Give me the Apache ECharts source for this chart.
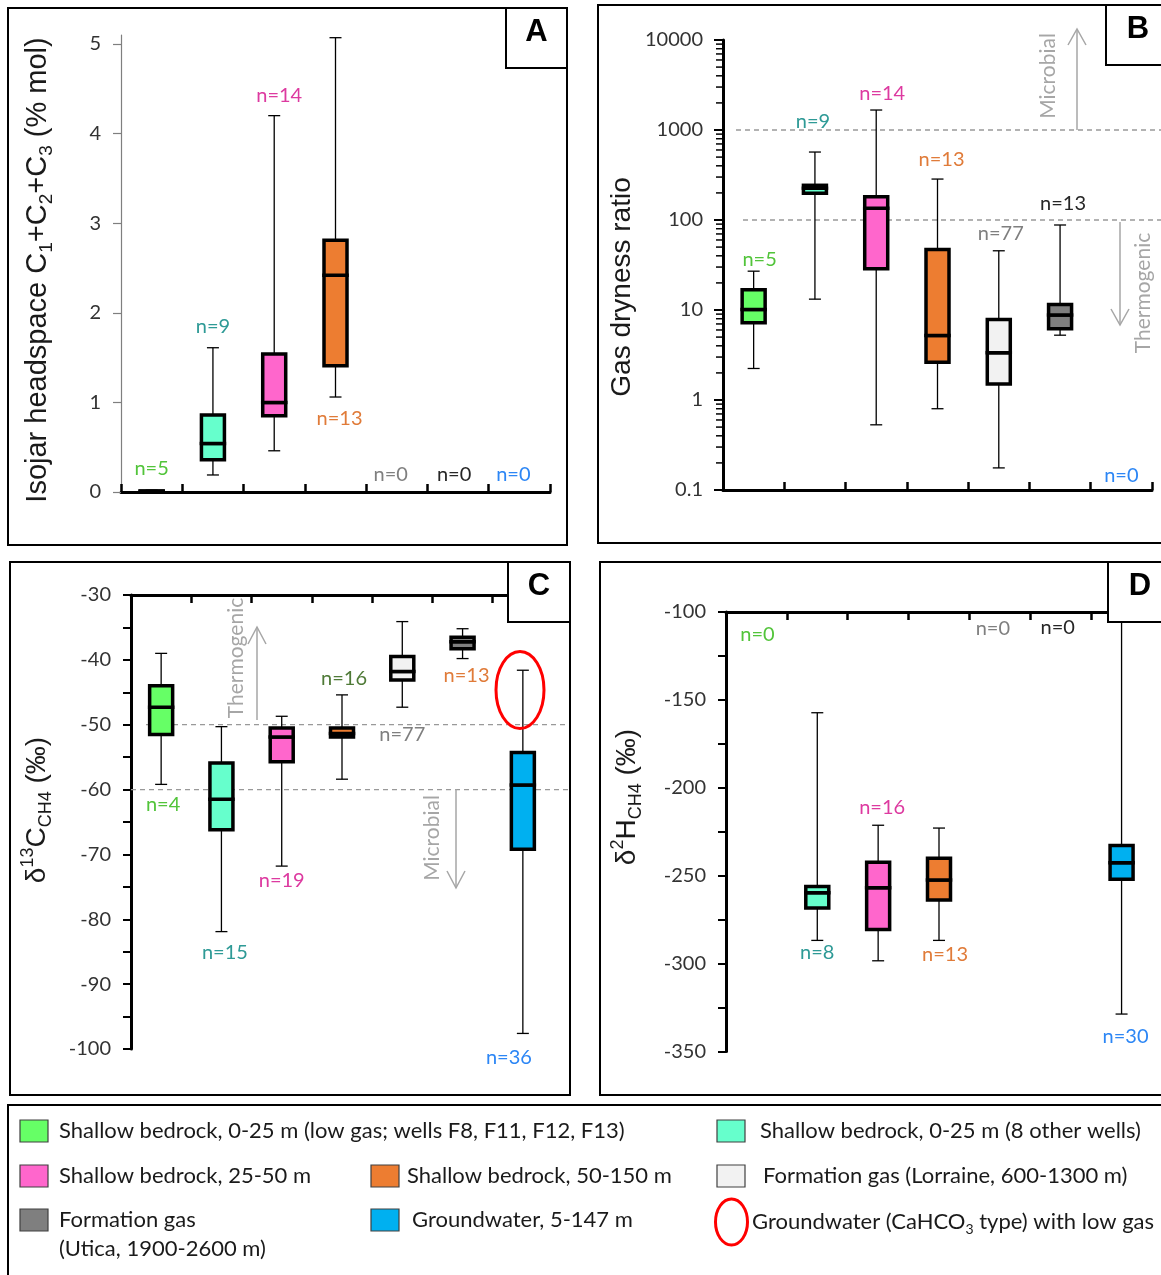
<!DOCTYPE html>
<html><head><meta charset="utf-8">
<script src="https://cdn.jsdelivr.net/npm/echarts@6/dist/echarts.min.js"></script>
<style>html,body{margin:0;padding:0;background:#fff}#chart{width:1161px;height:1275px}</style>
</head><body><div id="chart"></div>
<script>
// ---------------- DATA ----------------
const groups = [
  'Shallow bedrock, 0-25 m (low gas; wells F8, F11, F12, F13)',
  'Shallow bedrock, 0-25 m (8 other wells)',
  'Shallow bedrock, 25-50 m',
  'Shallow bedrock, 50-150 m',
  'Formation gas (Lorraine, 600-1300 m)',
  'Formation gas (Utica, 1900-2600 m)',
  'Groundwater, 5-147 m'
];

// Panel A: Isojar headspace C1+C2+C3 (% mol)
const headspaceMin    = [0.002, 0.19, 0.46, 1.06, null, null, null];
const headspaceQ1     = [0.004, 0.36, 0.85, 1.41, null, null, null];
const headspaceMedian = [0.008, 0.54, 1.00, 2.42, null, null, null];
const headspaceQ3     = [0.012, 0.86, 1.54, 2.81, null, null, null];
const headspaceMax    = [0.02, 1.61, 4.20, 5.07, null, null, null];
const headspaceN      = [5, 9, 14, 13, 0, 0, 0];

// Panel B: Gas dryness ratio
const drynessMin    = [2.24, 13.2, 0.53, 0.80, 0.176, 5.25, null];
const drynessQ1     = [7.2, 198, 28.8, 2.63, 1.51, 6.2, null];
const drynessMedian = [10.1, 226, 135, 5.2, 3.35, 8.8, null];
const drynessQ3     = [16.8, 243, 181, 47, 7.85, 11.5, null];
const drynessMax    = [27, 569, 1667, 285, 45.5, 88, null];
const drynessN      = [5, 9, 14, 13, 77, 13, 0];
const drynessThresholds = [1000, 100];
const drynessTicks = [0.1, 1, 10, 100, 1000, 10000];
const logMinorMultipliers = [2, 3, 4, 5, 6, 7, 8, 9];

// Panel C: d13C-CH4 (permil)
const d13cMin    = [-59.2, -81.9, -71.8, -58.4, -47.3, -39.8, -97.6];
const d13cQ1     = [-51.5, -66.2, -55.7, -51.9, -43.1, -38.3, -69.2];
const d13cMedian = [-47.3, -61.5, -51.9, -51.35, -41.8, -37.2, -59.3];
const d13cQ3     = [-44.0, -55.9, -50.5, -50.5, -39.5, -36.5, -54.3];
const d13cMax    = [-39.0, -50.3, -48.7, -45.4, -34.1, -35.2, -41.6];
const d13cN      = [4, 15, 19, 16, 77, 13, 36];
const d13cThresholds = [-50, -60];

// Panel D: d2H-CH4 (permil)
const d2hMin    = [null, -286.8, -298.4, -286.8, null, null, -328.7];
const d2hQ1     = [null, -268.4, -280.6, -263.8, null, null, -252.0];
const d2hMedian = [null, -259.7, -256.9, -252.4, null, null, -242.7];
const d2hQ3     = [null, -256.1, -242.3, -240.1, null, null, -232.8];
const d2hMax    = [null, -157.3, -221.3, -222.9, null, null, -100];
const d2hN      = [0, 8, 16, 13, 0, 0, 30];

// ---------------- STYLE / LAYOUT ----------------
const boxFill = ['#66ff66', '#66ffcc', '#ff66cc', '#ed7d31', '#f2f2f2', '#7f7f7f', '#00b0f0'];
const nColors = ['#52c43a', '#2e9a96', '#dd3aa0', '#e07b39', '#7f7f7f', '#262626', '#2c86f5'];
const nColorsC = ['#52c43a', '#2e9a96', '#dd3aa0', '#4f7a37', '#7f7f7f', '#e07b39', '#2c86f5'];
const FONT = 'Lato, "Open Sans", sans-serif';
const TFONT = '"Liberation Sans", Arial, sans-serif';

const grids = [
  {left: 121, top: 35, width: 429, height: 457},
  {left: 723, top: 40, width: 429, height: 450},
  {left: 131, top: 595, width: 422, height: 454},
  {left: 726, top: 612, width: 426, height: 439.5}
];

const layouts = [
  {ref: 0, top: false, off: [-22, -21, -20, 22, -17.5, -17, -17.5], dx: [0, 0, 5, 4, -6, -4, -6], colors: nColors},
  {ref: 1, top: false, off: [-12, -30, -16, -20, -17, -21, -14], dx: [6, -2, 6, 4, 2, 3, 0], colors: nColors},
  {ref: -50, top: true, off: [20, 21, 14, -16, 27, 17, 24.5], dx: [2, 3.5, 0, 2, 0, 4, -14], colors: nColorsC},
  {ref: -200, top: true, off: [22.6, 12, -17.5, 14, 17, 16, 22], dx: [1, 0, 4, 6, -7, -3, 4], colors: nColors}
];

function boxSeries(gi, mins, q1s, meds, q3s, maxs, ns) {
  const L = layouts[gi];
  const data = groups.map((g, i) => [i, mins[i], q1s[i], meds[i], q3s[i], maxs[i], ns[i]]);
  return {
    type: 'custom', xAxisIndex: gi, yAxisIndex: gi, clip: false, z: 5,
    encode: {x: 0, y: [1, 2, 3, 4, 5]},
    data: data,
    renderItem: function (params, api) {
      const i = api.value(0);
      const cs = params.coordSys;
      const cx = api.coord([i, L.ref])[0];
      const n = api.value(6);
      const lo = api.value(1), q1 = api.value(2), md = api.value(3), q3 = api.value(4), hi = api.value(5);
      const ch = [];
      let ly;
      if (n > 0 && !isNaN(lo)) {
        const yLo = api.coord([i, lo])[1], yQ1 = api.coord([i, q1])[1], yMd = api.coord([i, md])[1],
              yQ3 = api.coord([i, q3])[1], yHi = api.coord([i, hi])[1];
        const bw = 23, cw = 12;
        ch.push({type: 'line', shape: {x1: cx, y1: yHi, x2: cx, y2: yLo}, style: {stroke: '#000', lineWidth: 1.3}});
        ch.push({type: 'line', shape: {x1: cx - cw / 2, y1: yHi, x2: cx + cw / 2, y2: yHi}, style: {stroke: '#000', lineWidth: 1.3}});
        ch.push({type: 'line', shape: {x1: cx - cw / 2, y1: yLo, x2: cx + cw / 2, y2: yLo}, style: {stroke: '#000', lineWidth: 1.3}});
        ch.push({type: 'rect', shape: {x: cx - bw / 2, y: yMd, width: bw, height: yQ1 - yMd}, style: {fill: boxFill[i], stroke: '#000', lineWidth: 3.5}});
        ch.push({type: 'rect', shape: {x: cx - bw / 2, y: yQ3, width: bw, height: yMd - yQ3}, style: {fill: boxFill[i], stroke: '#000', lineWidth: 3.5}});
        ly = (L.off[i] < 0 ? yHi : yLo) + L.off[i];
      } else {
        ly = (L.top ? cs.y : cs.y + cs.height) + L.off[i];
      }
      ch.push({type: 'text', style: {text: 'n=' + n, x: cx + L.dx[i], y: ly, textAlign: 'center', textVerticalAlign: 'middle', align: 'center', verticalAlign: 'middle', font: '20px ' + FONT, fill: L.colors[i]}});
      return {type: 'group', children: ch};
    }
  };
}

function thresholdSeries(gi, values, startOff, endExt) {
  return {
    type: 'custom', xAxisIndex: gi, yAxisIndex: gi, clip: false, z: 2,
    encode: {x: 0, y: 1},
    data: values.map(v => [0, v]),
    renderItem: function (params, api) {
      const cs = params.coordSys;
      const y = api.coord([0, api.value(1)])[1];
      return {type: 'line', shape: {x1: cs.x + startOff[params.dataIndex], y1: y, x2: cs.x + cs.width + endExt, y2: y},
              style: {stroke: '#999', lineWidth: 1.3, lineDash: [5, 4]}};
    }
  };
}

const minorValues = [];
drynessTicks.slice(0, -1).forEach(d => logMinorMultipliers.forEach(m => minorValues.push(+(d * m).toPrecision(3))));

const minorTickSeries = {
  type: 'custom', xAxisIndex: 1, yAxisIndex: 1, clip: false, z: 10,
  encode: {x: 0, y: 1},
  data: minorValues.map(v => [0, v]),
  renderItem: function (params, api) {
    const cs = params.coordSys;
    const y = api.coord([0, api.value(1)])[1];
    return {type: 'line', shape: {x1: cs.x - 7, y1: y, x2: cs.x, y2: y}, style: {stroke: '#000', lineWidth: 1.5}};
  }
};

function xAxis(gi) {
  return {
    gridIndex: gi, type: 'category', data: groups, boundaryGap: true,
    position: gi < 2 ? 'bottom' : 'top',
    axisLine: {show: true, onZero: false, lineStyle: {color: '#000', width: 3}},
    axisTick: {show: true, interval: 0, inside: true, length: 8, lineStyle: {color: '#000', width: 2.5}},
    axisLabel: {show: true, interval: 0, color: 'rgba(0,0,0,0)', fontSize: 1, formatter: () => ''},
    splitLine: {show: false}
  };
}
const yLabel = {color: '#333', fontSize: 20, fontFamily: FONT, margin: 20};
const yAxes = [
  {gridIndex: 0, type: 'value', min: 0, max: 5.1, interval: 1,
   axisLine: {show: true, lineStyle: {color: '#7f7f7f', width: 1.2}},
   axisTick: {show: true, length: 8, lineStyle: {color: '#7f7f7f', width: 1.2}},
   axisLabel: Object.assign({showMaxLabel: false}, yLabel), splitLine: {show: false}},
  {gridIndex: 1, type: 'log', logBase: 10, min: drynessTicks[0], max: drynessTicks[drynessTicks.length - 1],
   axisLine: {show: true, lineStyle: {color: '#000', width: 3}},
   axisTick: {show: true, length: 9, lineStyle: {color: '#000', width: 2}},
   axisLabel: Object.assign({formatter: v => String(+(+v).toPrecision(6))}, yLabel), splitLine: {show: false}},
  {gridIndex: 2, type: 'value', min: -100, max: -30, interval: 10,
   axisLine: {show: true, lineStyle: {color: '#000', width: 3}},
   axisTick: {show: true, length: 8, lineStyle: {color: '#000', width: 2}},
   minorTick: {show: true, splitNumber: 2, length: 8, lineStyle: {color: '#000', width: 2}},
   axisLabel: yLabel, splitLine: {show: false}},
  {gridIndex: 3, type: 'value', min: -350, max: -100, interval: 50,
   axisLine: {show: true, lineStyle: {color: '#000', width: 3}},
   axisTick: {show: true, length: 8, lineStyle: {color: '#000', width: 2}},
   minorTick: {show: true, splitNumber: 2, length: 8, lineStyle: {color: '#000', width: 2}},
   axisLabel: yLabel, splitLine: {show: false}}
];

// ---------------- GRAPHIC (frames, titles, annotations, legend) ----------------
const G = [];
function rect(x, y, w, h, opt) { G.push(Object.assign({type: 'rect', shape: {x: x, y: y, width: w, height: h}, style: {fill: 'none', stroke: '#000', lineWidth: 2}, z: 1}, opt || {})); }
function text(x, y, t, font, fill, extra) {
  G.push(Object.assign({type: 'text', x: x, y: y, z: 110, style: {text: t, font: font, fill: fill, textAlign: 'left', textVerticalAlign: 'middle', align: 'left', verticalAlign: 'middle'}}, extra || {}));
}
function ctext(x, y, t, font, fill, rot, rich) {
  const st = {text: t, font: font, fill: fill, textAlign: 'center', textVerticalAlign: 'middle', align: 'center', verticalAlign: 'middle'};
  if (rich) st.rich = rich;
  G.push({type: 'text', x: x, y: y, rotation: rot || 0, z: 110, style: st});
}
function line(pts, color, lw) { G.push({type: 'polyline', shape: {points: pts}, style: {stroke: color, lineWidth: lw, fill: 'none'}, z: 50}); }

// panel frames
rect(8, 8, 559, 537);
rect(598, 5, 580, 538);
rect(10, 562, 560, 533);
rect(600, 562, 580, 533);
rect(8, 1105, 1170, 190);
// panel letter boxes
[[506, 8, 61, 60], [1106, 5, 70, 60], [508, 562, 62, 60], [1108, 562, 70, 60]].forEach(b => {
  G.push({type: 'rect', shape: {x: b[0], y: b[1], width: b[2], height: b[3]}, style: {fill: '#fff', stroke: '#000', lineWidth: 2}, z: 100});
});
ctext(536.5, 32, 'A', 'bold 31px ' + TFONT, '#000');
ctext(1138, 29, 'B', 'bold 31px ' + TFONT, '#000');
ctext(539, 586, 'C', 'bold 31px ' + TFONT, '#000');
ctext(1140, 586, 'D', 'bold 31px ' + TFONT, '#000');

// axis titles
function tRich(size) {
  return {
    m: {fontSize: size, fontFamily: TFONT, fill: '#1a1a1a', lineHeight: size + 8, verticalAlign: 'middle'},
    s: {fontSize: Math.round(size * 0.64), fontFamily: TFONT, fill: '#1a1a1a', lineHeight: Math.round(size * 0.64), verticalAlign: 'bottom'},
    p: {fontSize: Math.round(size * 0.64), fontFamily: TFONT, fill: '#1a1a1a', lineHeight: Math.round(size * 0.64), verticalAlign: 'top'}
  };
}
ctext(38, 270, '{m|Isojar headspace C}{s|1}{m|+C}{s|2}{m|+C}{s|3}{m| (% mol)}', '29px ' + TFONT, '#1a1a1a', Math.PI / 2, tRich(29));
ctext(622, 287, '{m|Gas dryness ratio}', '28px ' + TFONT, '#1a1a1a', Math.PI / 2, tRich(28));
ctext(37, 810, '{m|δ}{p|13}{m|C}{s|CH4}{m| (‰)}', '28px ' + TFONT, '#1a1a1a', Math.PI / 2, tRich(28));
ctext(627, 797, '{m|δ}{p|2}{m|H}{s|CH4}{m| (‰)}', '28px ' + TFONT, '#1a1a1a', Math.PI / 2, tRich(28));

// annotations
const AG = '#a6a6a6';
line([[1077, 130], [1077, 30]], AG, 1.5); line([[1068, 45], [1077, 29], [1086, 45]], AG, 1.5);
ctext(1048, 76, 'Microbial', '21px ' + FONT, AG, Math.PI / 2);
line([[1120, 222], [1120, 325]], AG, 1.5); line([[1111, 309], [1120, 325], [1129, 309]], AG, 1.5);
ctext(1143, 293, 'Thermogenic', '21px ' + FONT, AG, Math.PI / 2);
line([[257, 720], [257, 627]], AG, 1.5); line([[248, 644], [257, 627], [266, 644]], AG, 1.5);
ctext(236, 658, 'Thermogenic', '21px ' + FONT, AG, Math.PI / 2);
line([[456, 789], [456, 888]], AG, 1.5); line([[447, 871], [456, 888], [465, 871]], AG, 1.5);
ctext(432, 838, 'Microbial', '21px ' + FONT, AG, Math.PI / 2);
G.push({type: 'ellipse', shape: {cx: 520, cy: 690, rx: 24, ry: 38.5}, style: {fill: 'none', stroke: '#ff0000', lineWidth: 3}, z: 60});

// legend
const LF = '22px ' + FONT, LC = '#1a1a1a';
function swatch(x, yc, c) { G.push({type: 'rect', shape: {x: x, y: yc - 11, width: 28, height: 22}, style: {fill: c, stroke: '#404040', lineWidth: 1.2}, z: 100}); }
swatch(20, 1131, boxFill[0]); text(59, 1131, groups[0], LF, LC);
swatch(717, 1131, boxFill[1]); text(760, 1131, groups[1], LF, LC);
swatch(20, 1176, boxFill[2]); text(59, 1176, groups[2], LF, LC);
swatch(371, 1176, boxFill[3]); text(407, 1176, groups[3], LF, LC);
swatch(717, 1176, boxFill[4]); text(763, 1176, groups[4], LF, LC);
swatch(20, 1220, boxFill[5]); text(59, 1220, 'Formation gas', LF, LC); text(59, 1249, '(Utica, 1900-2600 m)', LF, LC);
swatch(371, 1220, boxFill[6]); text(412, 1220, groups[6], LF, LC);
G.push({type: 'ellipse', shape: {cx: 731.5, cy: 1222, rx: 16, ry: 23}, style: {fill: 'none', stroke: '#ff0000', lineWidth: 3}, z: 100});
G.push({type: 'text', x: 752, y: 1222, z: 110, style: {
  text: '{n|Groundwater (CaHCO}{s|3}{n| type) with low gas}', textAlign: 'left', textVerticalAlign: 'middle', align: 'left', verticalAlign: 'middle',
  rich: {n: {fontSize: 22, fontFamily: FONT, fill: LC, lineHeight: 28, verticalAlign: 'middle'}, s: {fontSize: 14, fontFamily: FONT, fill: LC, lineHeight: 14, verticalAlign: 'bottom'}}}});

const chart = echarts.init(document.getElementById('chart'), null, {renderer: 'canvas'});
chart.setOption({
  animation: false,
  backgroundColor: '#fff',
  grid: grids,
  xAxis: [0, 1, 2, 3].map(xAxis),
  yAxis: yAxes,
  series: [
    thresholdSeries(1, drynessThresholds, [13, 20], 9),
    thresholdSeries(2, d13cThresholds, [15, 0], 15),
    minorTickSeries,
    boxSeries(0, headspaceMin, headspaceQ1, headspaceMedian, headspaceQ3, headspaceMax, headspaceN),
    boxSeries(1, drynessMin, drynessQ1, drynessMedian, drynessQ3, drynessMax, drynessN),
    boxSeries(2, d13cMin, d13cQ1, d13cMedian, d13cQ3, d13cMax, d13cN),
    boxSeries(3, d2hMin, d2hQ1, d2hMedian, d2hQ3, d2hMax, d2hN)
  ],
  graphic: {elements: G}
});
</script></body></html>
